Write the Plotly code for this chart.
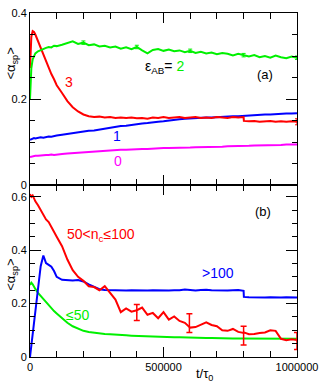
import plotly.graph_objects as go

# time grid (t / tau0)
t = [0, 5000, 10000, 15000, 20000, 30000, 40000, 50000, 60000, 70000, 80000, 90000, 100000,
     120000, 140000, 160000, 180000, 200000, 220000, 240000, 260000, 280000, 300000,
     320000, 340000, 360000, 380000, 400000, 420000, 440000, 460000, 480000, 500000,
     520000, 540000, 560000, 580000, 600000, 620000, 640000, 660000, 680000, 700000,
     720000, 740000, 760000, 780000, 800000, 801000, 820000, 840000, 860000, 880000,
     900000, 920000, 940000, 960000, 980000, 1000000]

# panel (a): eps_AB = 0, 1, 2, 3
a_eps2 = [0.200, 0.272, 0.292, 0.300, 0.306, 0.311, 0.314, 0.316, 0.319, 0.321, 0.320, 0.324, 0.323,
          0.326, 0.330, 0.334, 0.328, 0.331, 0.325, 0.327, 0.322, 0.324, 0.320, 0.322, 0.317,
          0.320, 0.316, 0.321, 0.313, 0.306, 0.314, 0.316, 0.312, 0.315, 0.311, 0.313, 0.309,
          0.312, 0.307, 0.310, 0.306, 0.308, 0.304, 0.307, 0.305, 0.301, 0.305, 0.302, 0.303,
          0.299, 0.302, 0.297, 0.300, 0.296, 0.301, 0.297, 0.295, 0.299, 0.296]
a_eps3 = [0.272, 0.345, 0.358, 0.356, 0.350, 0.335, 0.318, 0.301, 0.286, 0.272, 0.258, 0.246, 0.232,
          0.214, 0.195, 0.181, 0.171, 0.164, 0.160, 0.158, 0.159, 0.157, 0.158, 0.156, 0.157,
          0.156, 0.157, 0.155, 0.156, 0.154, 0.157, 0.156, 0.158, 0.156, 0.157, 0.158, 0.156,
          0.157, 0.158, 0.156, 0.157, 0.156, 0.158, 0.157, 0.156, 0.158, 0.157, 0.158, 0.149,
          0.148, 0.149, 0.147, 0.148, 0.149, 0.147, 0.148, 0.147, 0.148, 0.147]
a_eps1 = [0.105, 0.107, 0.108, 0.109, 0.108, 0.110, 0.111, 0.110, 0.112, 0.113, 0.112, 0.114, 0.115,
          0.117, 0.119, 0.120, 0.122, 0.124, 0.126, 0.127, 0.129, 0.131, 0.133, 0.136, 0.137,
          0.138, 0.140, 0.141, 0.143, 0.144, 0.146, 0.147, 0.148, 0.150, 0.151, 0.153, 0.154,
          0.155, 0.155, 0.156, 0.157, 0.157, 0.158, 0.158, 0.159, 0.160, 0.160, 0.161, 0.161,
          0.162, 0.163, 0.163, 0.164, 0.164, 0.165, 0.165, 0.166, 0.166, 0.167]
a_eps0 = [0.065, 0.066, 0.067, 0.067, 0.068, 0.068, 0.069, 0.069, 0.070, 0.070, 0.071, 0.070, 0.071,
          0.072, 0.073, 0.074, 0.075, 0.075, 0.076, 0.077, 0.078, 0.079, 0.080, 0.081, 0.082,
          0.082, 0.083, 0.083, 0.084, 0.084, 0.085, 0.085, 0.086, 0.086, 0.086, 0.087, 0.087,
          0.087, 0.088, 0.088, 0.088, 0.089, 0.089, 0.089, 0.090, 0.090, 0.090, 0.091, 0.091,
          0.091, 0.092, 0.092, 0.092, 0.093, 0.093, 0.093, 0.094, 0.094, 0.094]

# panel (a) error bars
a_err_t = [200000, 400000, 600000, 800000, 1000000]
a_err_y = [0.331, 0.321, 0.312, 0.302, 0.296]
a_err_e = [0.004, 0.004, 0.004, 0.004, 0.004]
a_err3_t = [1000000]
a_err3_y = [0.147]
a_err3_e = [0.007]

# panel (b): cluster size classes
b_mid = [0.610, 0.600, 0.605, 0.590, 0.583, 0.568, 0.550, 0.535, 0.515, 0.505, 0.485, 0.470, 0.450,
         0.415, 0.365, 0.325, 0.300, 0.285, 0.265, 0.262, 0.250, 0.265, 0.240, 0.215, 0.168,
         0.182, 0.170, 0.175, 0.185, 0.158, 0.165, 0.145, 0.168, 0.140, 0.152, 0.135, 0.128,
         0.110, 0.112, 0.122, 0.130, 0.120, 0.115, 0.100, 0.098, 0.105, 0.094, 0.090, 0.092,
         0.085, 0.086, 0.090, 0.092, 0.100, 0.098, 0.068, 0.063, 0.066, 0.064]
b_large = [0.000, 0.040, 0.085, 0.130, 0.170, 0.260, 0.340, 0.380, 0.352, 0.345, 0.338, 0.322, 0.300,
           0.289, 0.287, 0.286, 0.288, 0.283, 0.272, 0.262, 0.254, 0.251, 0.250, 0.249, 0.250,
           0.249, 0.250, 0.249, 0.250, 0.249, 0.250, 0.249, 0.250, 0.249, 0.250, 0.250, 0.253,
           0.250, 0.249, 0.251, 0.252, 0.250, 0.249, 0.250, 0.249, 0.250, 0.251, 0.248, 0.225,
           0.224, 0.223, 0.224, 0.223, 0.224, 0.223, 0.223, 0.224, 0.223, 0.223]
b_small = [0.270, 0.278, 0.272, 0.262, 0.255, 0.240, 0.228, 0.216, 0.205, 0.194, 0.182, 0.172, 0.163,
           0.145, 0.128, 0.115, 0.106, 0.098, 0.094, 0.091, 0.088, 0.086, 0.085, 0.083, 0.082,
           0.081, 0.080, 0.079, 0.078, 0.078, 0.077, 0.076, 0.075, 0.075, 0.074, 0.074, 0.073,
           0.073, 0.072, 0.072, 0.071, 0.071, 0.070, 0.070, 0.070, 0.069, 0.069, 0.069, 0.069,
           0.069, 0.068, 0.068, 0.068, 0.068, 0.068, 0.068, 0.068, 0.068, 0.068]

b_err_t = [400000, 597000, 800000, 1000000]
b_err_y = [0.167, 0.127, 0.080, 0.060]
b_err_e = [0.030, 0.035, 0.035, 0.032]

RED, GREEN, BLUE, MAG = "#ff0000", "#00f000", "#0000ff", "#ff00ff"
FONT = "Liberation Sans, Arial, Helvetica, sans-serif"

fig = go.Figure()

def line(y, color, xa, ya):
    fig.add_trace(go.Scatter(x=t, y=y, mode="lines", line=dict(color=color, width=2),
                             xaxis=xa, yaxis=ya, showlegend=False, hoverinfo="skip"))

def errs(x, y, e, color, xa, ya, w=3, th=1.5):
    fig.add_trace(go.Scatter(x=x, y=y, mode="markers", marker=dict(size=1, color=color),
                             error_y=dict(type="data", array=e, color=color, thickness=th, width=w),
                             xaxis=xa, yaxis=ya, showlegend=False, hoverinfo="skip"))

line(a_eps0, MAG, "x", "y")
line(a_eps1, BLUE, "x", "y")
line(a_eps3, RED, "x", "y")
line(a_eps2, GREEN, "x", "y")
errs(a_err_t, a_err_y, a_err_e, GREEN, "x", "y", w=2, th=1)
errs(a_err3_t, a_err3_y, a_err3_e, RED, "x", "y", w=2, th=1)

line(b_small, GREEN, "x2", "y2")
line(b_large, BLUE, "x2", "y2")
line(b_mid, RED, "x2", "y2")
errs(b_err_t, b_err_y, b_err_e, RED, "x2", "y2")

common_x = dict(range=[0, 1000000], showline=True, linecolor="black", linewidth=1,
                mirror="allticks", ticks="inside", ticklen=10, tickcolor="black",
                tickvals=[0, 500000, 1000000], tickformat="d",
                minor=dict(dtick=100000, tick0=0, ticks="inside", ticklen=6, tickcolor="black"),
                showgrid=False, zeroline=False, tickfont=dict(size=11, color="black"))
common_y = dict(showline=True, linecolor="black", linewidth=1, mirror="allticks",
                ticks="inside", ticklen=11, tickcolor="black", tickvals=[0, 0.2, 0.4, 0.6],
                minor=dict(dtick=0.05, tick0=0, ticks="inside", ticklen=5, tickcolor="black"),
                showgrid=False, zeroline=False, tickfont=dict(size=11, color="black"))

fig.update_layout(
    width=325, height=385,
    margin=dict(l=30, r=22, t=7, b=28),
    paper_bgcolor="white", plot_bgcolor="white",
    font=dict(family=FONT, size=11, color="black"),
    xaxis=dict(common_x, anchor="y", showticklabels=False),
    yaxis=dict(common_y, domain=[0.5, 1], range=[0, 0.4], anchor="x"),
    xaxis2=dict(common_x, anchor="y2", matches="x"),
    yaxis2=dict(common_y, domain=[0, 0.5], range=[0, 0.644], anchor="x2"),
)

ann = [
    dict(x=146500, y=0.24, xref="x", yref="y", text="3", font=dict(color=RED, size=14)),
    dict(x=502000, y=0.274, xref="x", yref="y",
         text="ε<sub>AB</sub>= <span style='color:#00f000'>2</span>", font=dict(color="black", size=14)),
    dict(x=879000, y=0.256, xref="x", yref="y", text="(a)", font=dict(size=13)),
    dict(x=326000, y=0.114, xref="x", yref="y", text="1", font=dict(color=BLUE, size=14)),
    dict(x=330000, y=0.055, xref="x", yref="y", text="0", font=dict(color=MAG, size=14)),
    dict(x=872000, y=0.545, xref="x2", yref="y2", text="(b)", font=dict(size=13)),
    dict(x=267000, y=0.456, xref="x2", yref="y2", text="50&lt;n<sub>c</sub>≤100", font=dict(color=RED, size=14)),
    dict(x=703000, y=0.313, xref="x2", yref="y2", text="&gt;100", font=dict(color=BLUE, size=14)),
    dict(x=179000, y=0.158, xref="x2", yref="y2", text="≤50", font=dict(color=GREEN, size=14)),
    dict(x=-0.07, y=0.854, xref="paper", yref="paper", text="&lt;α<sub>sp</sub>&gt;", textangle=-90,
         font=dict(size=13)),
    dict(x=-0.07, y=0.24, xref="paper", yref="paper", text="&lt;α<sub>sp</sub>&gt;", textangle=-90,
         font=dict(size=13)),
    dict(x=0.652, y=-0.05, xref="paper", yref="paper", text="t/τ<sub>0</sub>", font=dict(size=13)),
]
for a in ann:
    a.setdefault("showarrow", False)
    a.setdefault("xanchor", "center")
    a.setdefault("yanchor", "middle")
    fig.add_annotation(**a)

fig.write_html("out.html", config={"displayModeBar": False},
               post_script="document.body.style.margin='0px';")
